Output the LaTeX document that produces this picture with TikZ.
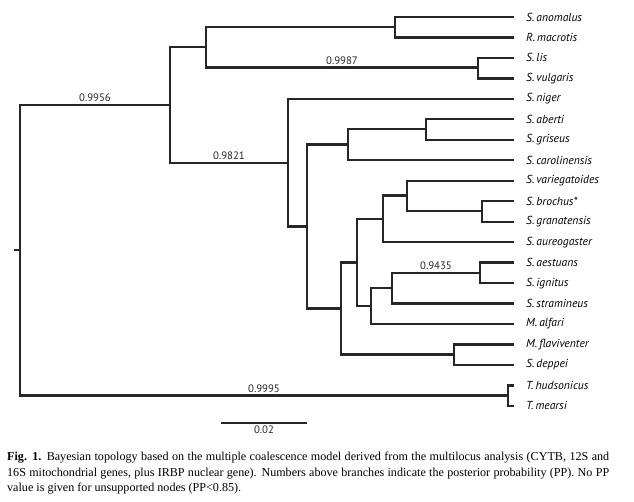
\documentclass[tikz,border=0pt]{standalone}
\usepackage{fontspec}
\setmainfont{Liberation Serif}
\newfontfamily\treefont{PT Sans}
\usepackage{tikz}

\begin{document}
\begin{tikzpicture}[x=1pt,y=-1pt,
    branch/.style={line width=2.3pt, black!85, line cap=rect},
    taxon/.style={anchor=west, inner sep=0pt, font=\treefont\itshape\fontsize{11.6}{13}\selectfont},
    pp/.style={above, inner sep=2pt, font=\treefont\fontsize{10.8}{12}\selectfont}]
    \useasboundingbox (0,0) rectangle (634,502);

    % uclar ve tur adlari
    \foreach \name/\txt [count=\i from 0] in {anom/S.\,anomalus, macr/R.\,macrotis, lis/S.\,lis,
        vulg/S.\,vulgaris, nige/S.\,niger, aber/S.\,aberti, gris/S.\,griseus, caro/S.\,carolinensis,
        vari/S.\,variegatoides, broc/S.\,brochus*, gran/S.\,granatensis, aure/S.\,aureogaster,
        aest/S.\,aestuans, igni/S.\,ignitus, stra/S.\,stramineus, alfa/M.\,alfari,
        flav/M.\,flaviventer, depp/S.\,deppei, huds/T.\,hudsonicus, mear/T.\,mearsi} {
        \coordinate (\name) at (513,{17+20.47*\i});
        \node[taxon] (\name-lab) at (526,{17+20.47*\i}) {\txt};
    }

    % ic dugumler
    \coordinate (stem) at (15,250);
    \coordinate (root) at (20,250);
    \coordinate (nA) at (170,105);
    \coordinate (nB) at (206,47);
    \coordinate (nAM) at (395,27);
    \coordinate (nLV) at (478,67.5);
    \coordinate (nC) at (288,163);
    \coordinate (nD) at (307,226.5);
    \coordinate (nE) at (348,144.5);
    \coordinate (nAG) at (426,129);
    \coordinate (nF) at (341,308.5);
    \coordinate (nG) at (357,262.5);
    \coordinate (nH) at (383,219);
    \coordinate (nI) at (407,195.5);
    \coordinate (nBG) at (482,211);
    \coordinate (nJ) at (371,306);
    \coordinate (nK) at (392,288);
    \coordinate (nAI) at (480,273);
    \coordinate (nFD) at (454,354.5);
    \coordinate (nT) at (508,395.5);

    % kok
    \draw[branch] (stem) -- (root);
    \draw[branch] (root) |- (nA) node[pp,pos=0.75] {0.9956};
    \draw[branch] (root) |- (nT) node[pp,pos=0.75] {0.9995};

    % ust grup
    \draw[branch] (nA) |- (nB);
    \draw[branch] (nA) |- (nC) node[pp,pos=0.75] {0.9821};
    \draw[branch] (nB) |- (nAM);
    \draw[branch] (nB) |- (nLV) node[pp,pos=0.75] {0.9987};
    \draw[branch] (nAM) |- (anom);
    \draw[branch] (nAM) |- (macr);
    \draw[branch] (nLV) |- (lis);
    \draw[branch] (nLV) |- (vulg);

    % alt grup
    \draw[branch] (nC) |- (nige);
    \draw[branch] (nC) |- (nD);
    \draw[branch] (nD) |- (nE);
    \draw[branch] (nD) |- (nF);
    \draw[branch] (nE) |- (nAG);
    \draw[branch] (nE) |- (caro);
    \draw[branch] (nAG) |- (aber);
    \draw[branch] (nAG) |- (gris);
    \draw[branch] (nF) |- (nG);
    \draw[branch] (nF) |- (nFD);
    \draw[branch] (nG) |- (nH);
    \draw[branch] (nG) |- (nJ);
    \draw[branch] (nH) |- (nI);
    \draw[branch] (nH) |- (aure);
    \draw[branch] (nI) |- (vari);
    \draw[branch] (nI) |- (nBG);
    \draw[branch] (nBG) |- (broc);
    \draw[branch] (nBG) |- (gran);
    \draw[branch] (nJ) |- (nK);
    \draw[branch] (nJ) |- (alfa);
    \draw[branch] (nK) |- (nAI) node[pp,pos=0.75] {0.9435};
    \draw[branch] (nK) |- (stra);
    \draw[branch] (nAI) |- (aest);
    \draw[branch] (nAI) |- (igni);
    \draw[branch] (nFD) |- (flav);
    \draw[branch] (nFD) |- (depp);
    \draw[branch] (nT) |- (huds);
    \draw[branch] (nT) |- (mear);

    % olcek cubugu
    \coordinate (sbL) at (221,423);
    \coordinate (sbR) at (307,423);
    \draw[line width=1.3pt, black!85] (sbL) -- (sbR) node[midway, below, inner sep=2.5pt, font=\treefont\fontsize{10.8}{12}\selectfont] (sbLab) {0.02};

    % sekil yazisi
    \node[anchor=north west, text width=602pt, inner sep=0pt, align=justify,
        font=\fontsize{12.1}{15.5}\selectfont] (caption) at (7,452)
        {\textbf{Fig. 1.} Bayesian topology based on the multiple coalescence model derived from the multilocus analysis (CYTB, 12S and\linebreak
        16S mitochondrial genes, plus IRBP nuclear gene). Numbers above branches indicate the posterior probability (PP). No PP\linebreak
        value is given for unsupported nodes (PP<0.85).};
\end{tikzpicture}
\end{document}
